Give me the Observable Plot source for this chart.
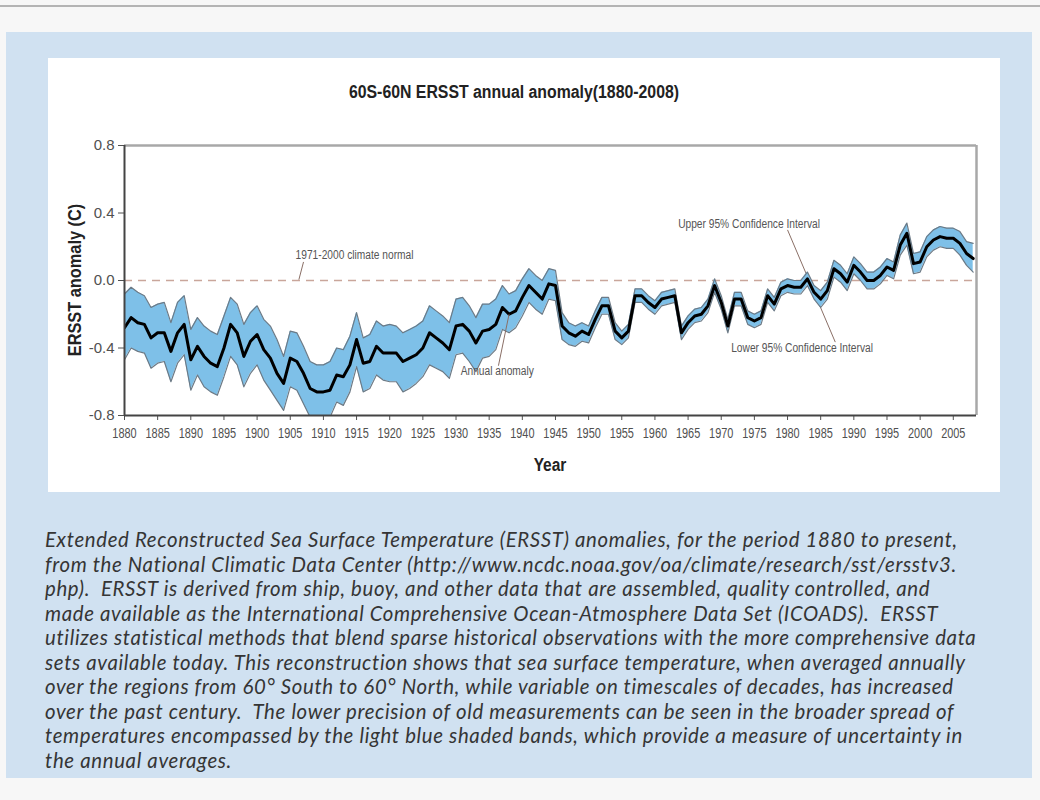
<!DOCTYPE html>
<html>
<head>
<meta charset="utf-8">
<script src="https://cdn.jsdelivr.net/npm/d3@7"></script>
<script src="https://cdn.jsdelivr.net/npm/@observablehq/plot@0.6"></script>
<style>
  html, body { margin: 0; padding: 0; }
  body { width: 1040px; height: 800px; background: #f7f7f7; position: relative; overflow: hidden; font-family: "Liberation Sans", Arial, sans-serif; }
  #topline { position: absolute; left: 0; top: 5px; width: 1040px; height: 2px; background: #b4b4b4; }
  #bluebox { position: absolute; left: 6px; top: 32px; width: 1026px; height: 746px; background: #d0e1f1; }
  #panel { position: absolute; left: 48px; top: 58px; width: 952px; height: 434px; background: #ffffff; }
  #title { position: absolute; left: 514px; top: 92px; transform: translate(-50%, -50%) scaleX(0.88); font-weight: bold; font-size: 18px; color: #222; white-space: nowrap; }
  #chart { position: absolute; left: 48px; top: 100px; }
  #ylabel { position: absolute; left: 75px; top: 280px; transform: translate(-50%, -50%) rotate(-90deg) scaleX(0.86); font-weight: bold; font-size: 19px; color: #222; white-space: nowrap; }
  #xlabel { position: absolute; left: 550px; top: 465px; transform: translate(-50%, -50%) scaleX(0.86); font-weight: bold; font-size: 18px; color: #222; }
  #caption { position: absolute; left: 45px; top: 527px; font-family: "Lato", sans-serif; font-style: italic; font-size: 20.4px; line-height: 24.5px; letter-spacing: 0.65px; color: #353535; white-space: nowrap; }
</style>
</head>
<body>
<div id="topline"></div>
<div id="bluebox"></div>
<div id="panel"></div>
<div id="title">60S-60N ERSST annual anomaly(1880-2008)</div>
<div id="chart"></div>
<div id="ylabel">ERSST anomaly (C)</div>
<div id="xlabel">Year</div>
<div id="caption">Extended Reconstructed Sea Surface Temperature (ERSST) anomalies, for the period 1880 to present,<br>from the National Climatic Data Center (http://www.ncdc.noaa.gov/oa/climate/research/sst/ersstv3.<br>php).&nbsp; ERSST is derived from ship, buoy, and other data that are assembled, quality controlled, and<br>made available as the International Comprehensive Ocean-Atmosphere Data Set (ICOADS).&nbsp; ERSST<br>utilizes statistical methods that blend sparse historical observations with the more comprehensive data<br>sets available today. This reconstruction shows that sea surface temperature, when averaged annually<br>over the regions from 60° South to 60° North, while variable on timescales of decades, has increased<br>over the past century.&nbsp; The lower precision of old measurements can be seen in the broader spread of<br>temperatures encompassed by the light blue shaded bands, which provide a measure of uncertainty in<br>the annual averages.</div>
<script>
// ---- data ----
const firstYear = 1880;
const anomaly = [
 -0.28,-0.22,-0.25,-0.26,-0.34,-0.31,-0.31,-0.42,-0.31,-0.26,
 -0.47,-0.39,-0.45,-0.49,-0.51,-0.40,-0.26,-0.31,-0.45,-0.36,
 -0.32,-0.41,-0.46,-0.55,-0.61,-0.46,-0.48,-0.55,-0.64,-0.66,
 -0.66,-0.65,-0.56,-0.57,-0.50,-0.35,-0.49,-0.48,-0.39,-0.43,
 -0.43,-0.43,-0.48,-0.46,-0.44,-0.40,-0.31,-0.34,-0.37,-0.41,
 -0.27,-0.26,-0.30,-0.37,-0.30,-0.29,-0.26,-0.16,-0.20,-0.18,
 -0.10,-0.03,-0.07,-0.11,-0.02,-0.03,-0.27,-0.31,-0.33,-0.30,
 -0.32,-0.23,-0.15,-0.15,-0.30,-0.34,-0.30,-0.09,-0.09,-0.13,
 -0.16,-0.11,-0.10,-0.09,-0.31,-0.25,-0.21,-0.20,-0.15,-0.03,
 -0.13,-0.27,-0.11,-0.11,-0.22,-0.24,-0.22,-0.09,-0.14,-0.05,
 -0.03,-0.04,-0.04,0.01,-0.07,-0.11,-0.06,0.07,0.04,-0.01,
 0.09,0.05,0.00,0.00,0.03,0.08,0.06,0.21,0.28,0.10,
 0.11,0.20,0.24,0.26,0.25,0.25,0.22,0.16,0.13
];
const upper95 = [
 -0.08,-0.04,-0.07,-0.09,-0.16,-0.14,-0.13,-0.25,-0.13,-0.09,
 -0.29,-0.22,-0.27,-0.30,-0.32,-0.21,-0.10,-0.14,-0.26,-0.19,
 -0.15,-0.23,-0.27,-0.35,-0.45,-0.30,-0.31,-0.39,-0.48,-0.50,
 -0.50,-0.48,-0.40,-0.41,-0.33,-0.19,-0.34,-0.32,-0.24,-0.27,
 -0.26,-0.27,-0.31,-0.29,-0.27,-0.24,-0.15,-0.18,-0.21,-0.25,
 -0.11,-0.10,-0.15,-0.22,-0.14,-0.14,-0.11,-0.03,-0.08,-0.06,
 0.01,0.07,0.03,0.00,0.07,0.06,-0.19,-0.25,-0.27,-0.25,
 -0.27,-0.18,-0.10,-0.10,-0.25,-0.30,-0.26,-0.05,-0.05,-0.09,
 -0.12,-0.07,-0.06,-0.05,-0.27,-0.21,-0.17,-0.16,-0.11,0.01,
 -0.09,-0.23,-0.07,-0.07,-0.18,-0.20,-0.18,-0.05,-0.10,-0.01,
 0.01,0.00,0.00,0.05,-0.03,-0.06,-0.01,0.12,0.09,0.04,
 0.14,0.10,0.05,0.05,0.08,0.13,0.11,0.27,0.34,0.16,
 0.17,0.26,0.30,0.32,0.31,0.31,0.29,0.23,0.22
];
const lower95 = [
 -0.47,-0.40,-0.42,-0.43,-0.52,-0.49,-0.48,-0.60,-0.49,-0.44,
 -0.65,-0.56,-0.63,-0.66,-0.68,-0.57,-0.45,-0.50,-0.63,-0.55,
 -0.50,-0.59,-0.65,-0.71,-0.77,-0.63,-0.65,-0.73,-0.81,-0.83,
 -0.83,-0.81,-0.72,-0.74,-0.66,-0.51,-0.66,-0.64,-0.56,-0.59,
 -0.60,-0.60,-0.66,-0.64,-0.61,-0.57,-0.50,-0.52,-0.54,-0.58,
 -0.44,-0.43,-0.48,-0.54,-0.46,-0.45,-0.41,-0.29,-0.31,-0.28,
 -0.21,-0.13,-0.17,-0.20,-0.11,-0.12,-0.35,-0.38,-0.39,-0.36,
 -0.37,-0.28,-0.20,-0.20,-0.35,-0.38,-0.34,-0.13,-0.13,-0.17,
 -0.20,-0.15,-0.14,-0.13,-0.35,-0.29,-0.25,-0.24,-0.19,-0.07,
 -0.17,-0.31,-0.15,-0.15,-0.26,-0.28,-0.26,-0.13,-0.18,-0.09,
 -0.07,-0.08,-0.08,-0.03,-0.11,-0.16,-0.11,0.02,-0.01,-0.06,
 0.04,0.00,-0.05,-0.05,-0.02,0.03,0.01,0.15,0.21,0.04,
 0.05,0.14,0.18,0.20,0.19,0.19,0.15,0.09,0.05
];
const xTicks = [1880,1885,1890,1895,1900,1905,1910,1915,1920,1925,1930,1935,1940,1945,1950,1955,1960,1965,1970,1975,1980,1985,1990,1995,2000,2005];
const yTicks = [-0.8,-0.4,0.0,0.4,0.8];
const climateNormal = 0.0;

// annotation labels and their leader lines (data coordinates)
const noteText = ["1971-2000 climate normal", "Upper 95% Confidence Interval", "Lower 95% Confidence Interval", "Annual anomaly"];
const noteYear = [1905.8, 1963.5, 1971.5, 1930.7];
const noteValue = [0.153, 0.335, -0.40, -0.535];
const leaderYear1 = [1907.0, 1980.0, 1936.4];
const leaderValue1 = [0.11, 0.30, -0.505];
const leaderYear2 = [1906.3, 1987.2, 1938.0];
const leaderValue2 = [0.005, -0.365, -0.20];

// ---- build table ----
const rows = anomaly.map((v, i) => ({year: firstYear + i, anomaly: v, upper: upper95[i], lower: lower95[i]}));
const notes = noteText.map((t, i) => ({text: t, year: noteYear[i], value: noteValue[i]}));
const leaders = leaderYear1.map((y, i) => ({x1: y, y1: leaderValue1[i], x2: leaderYear2[i], y2: leaderValue2[i]}));
const leadersBelow = [leaders[0], leaders[1]];
const leadersAbove = [leaders[2]];

const xMin = xTicks[0], xMax = 2008.5;
const yMin = yTicks[0], yMax = yTicks[yTicks.length - 1];

const chart = Plot.plot({
  width: 952,
  height: 390,
  marginLeft: 76,
  marginRight: 24,
  marginTop: 45,
  marginBottom: 75,
  style: {background: "transparent", fontFamily: "'Liberation Sans', Arial, sans-serif"},
  x: {domain: [xMin, xMax]},
  y: {domain: [yMin, yMax]},
  marks: [
    Plot.ruleY([climateNormal], {x1: xMin, x2: xMax, stroke: "#c9a69b", strokeWidth: 1.5, strokeDasharray: "8,6"}),
    Plot.link(leadersBelow, {x1: "x1", y1: "y1", x2: "x2", y2: "y2", stroke: "#8a6f66", strokeWidth: 1}),
    Plot.areaY(rows, {x: "year", y1: "lower", y2: "upper", fill: "#7ec0e8", clip: true}),
    Plot.lineY(rows, {x: "year", y: "upper", stroke: "#6c7a86", strokeWidth: 1.2, clip: true}),
    Plot.lineY(rows, {x: "year", y: "lower", stroke: "#6c7a86", strokeWidth: 1.2, clip: true}),
    Plot.lineY(rows, {x: "year", y: "anomaly", stroke: "#000", strokeWidth: 3, clip: true}),
    Plot.link(leadersAbove, {x1: "x1", y1: "y1", x2: "x2", y2: "y2", stroke: "#8a6f66", strokeWidth: 1}),
    Plot.text(notes, {x: "year", y: "value", text: "text", textAnchor: "start", fontSize: 12, fill: "#555"}),
    // frame
    Plot.ruleY([yMax], {x1: xMin, x2: xMax, stroke: "#a8a8a8", strokeWidth: 2.5}),
    Plot.ruleX([xMax], {y1: yMin, y2: yMax, stroke: "#a8a8a8", strokeWidth: 2.5}),
    Plot.axisY({ticks: yTicks, tickFormat: d => d.toFixed(1), tickSize: 6, tickPadding: 4, fontSize: 15, label: null, color: "#505050"}),
    Plot.axisX({ticks: xTicks, tickFormat: d => String(d), tickSize: 5, tickPadding: 8, fontSize: 14, label: null, color: "#505050"}),
    Plot.ruleX([xMin], {y1: yMin, y2: yMax, stroke: "#444", strokeWidth: 2}),
    Plot.ruleY([yMin], {x1: xMin, x2: xMax, stroke: "#444", strokeWidth: 2})
  ]
});
document.getElementById("chart").appendChild(chart);

// narrow the Arial-like glyphs to mimic the condensed face of the original
function condense(selector, factor) {
  chart.querySelectorAll(selector).forEach(t => {
    const len = t.getComputedTextLength();
    t.setAttribute("textLength", (len * factor).toFixed(1));
    t.setAttribute("lengthAdjust", "spacingAndGlyphs");
  });
}
condense('g[aria-label="x-axis tick label"] text', 0.78);
condense('g[aria-label="text"] text', 0.85);
</script>
</body>
</html>
